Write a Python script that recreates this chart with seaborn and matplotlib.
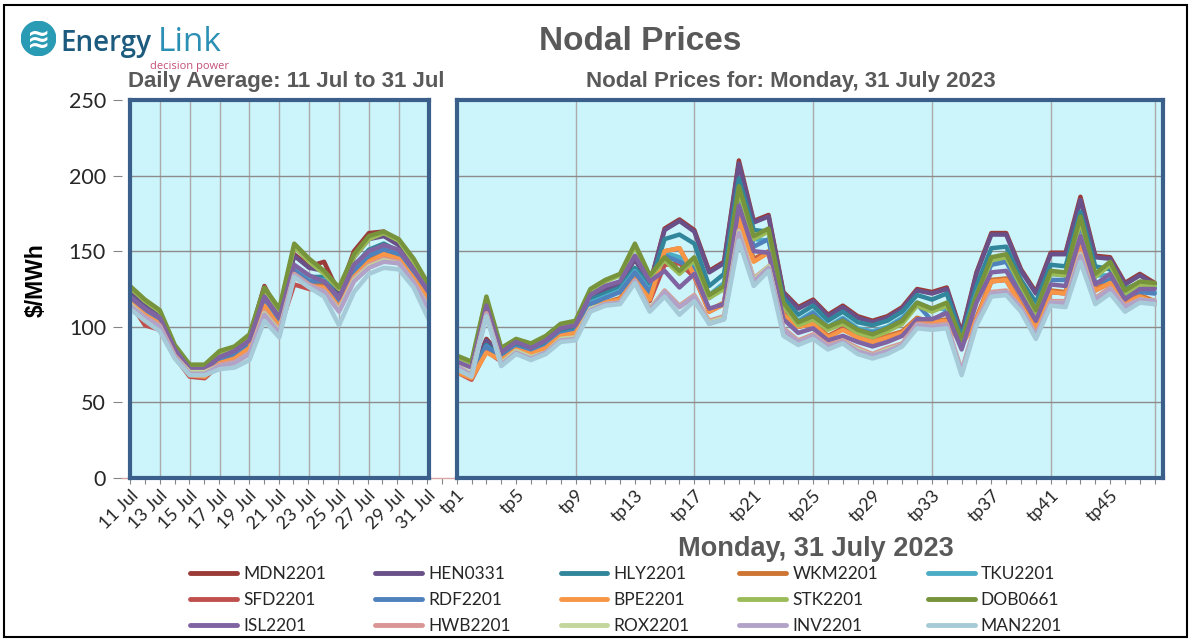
import pandas as pd
import matplotlib
matplotlib.use('Agg')
import matplotlib.pyplot as plt
import seaborn as sns
from matplotlib.lines import Line2D
from matplotlib.patches import Rectangle, Circle

# node names in legend order (also drawing order)
nodes = ['MDN2201', 'HEN0331', 'HLY2201', 'WKM2201', 'TKU2201',
         'SFD2201', 'RDF2201', 'BPE2201', 'STK2201', 'DOB0661',
         'ISL2201', 'HWB2201', 'ROX2201', 'INV2201', 'MAN2201']
node_colours = ['#9B3B38', '#6A5088', '#31869B', '#CE7533', '#4BACC6',
                '#C0504D', '#4F81BD', '#F79646', '#9BBB59', '#77933C',
                '#8064A2', '#D99694', '#C3D69B', '#B3A2C7', '#A6CAD8']

day_labels = ['%d Jul' % d for d in range(11, 32)]
tp_labels = ['tp%d' % t for t in range(1, 49)]

# daily averages, 11 Jul .. 31 Jul ($/MWh)
mdn_daily = [122, 115, 108, 86, 73, 73, 82, 86, 93, 127, 108, 148, 140, 143, 122, 150, 162, 163, 156, 140, 125]
hen_daily = [122, 114, 108, 86, 73, 73, 82, 85, 93, 125, 108, 147, 139, 137, 121, 146, 158, 160, 154, 139, 124]
hly_daily = [120, 112, 106, 85, 72, 72, 80, 83, 90, 120, 105, 140, 133, 133, 118, 140, 151, 155, 150, 137, 122]
wkm_daily = [117, 109, 103, 82, 69, 68, 77, 80, 87, 115, 101, 134, 128, 128, 114, 134, 144, 149, 146, 133, 119]
tku_daily = [119, 111, 105, 84, 71, 71, 79, 82, 89, 118, 104, 138, 131, 131, 117, 138, 149, 153, 149, 136, 121]
sfd_daily = [116, 101, 98, 80, 67, 66, 75, 78, 85, 113, 98, 128, 125, 125, 112, 131, 140, 146, 143, 130, 116]
rdf_daily = [118, 110, 104, 83, 71, 70, 78, 81, 88, 117, 103, 137, 130, 130, 116, 137, 147, 151, 148, 135, 120]
bpe_daily = [116, 108, 102, 81, 68, 67, 76, 79, 86, 114, 100, 133, 127, 126, 113, 133, 143, 148, 145, 132, 118]
stk_daily = [126, 117, 110, 87, 74, 74, 83, 86, 94, 124, 111, 153, 143, 135, 125, 146, 158, 162, 157, 143, 126]
dob_daily = [127, 118, 111, 88, 75, 75, 84, 87, 95, 126, 112, 155, 145, 137, 126, 148, 160, 163, 158, 145, 128]
isl_daily = [120, 112, 106, 85, 72, 72, 80, 84, 91, 120, 106, 141, 134, 130, 119, 141, 150, 154, 151, 138, 123]
hwb_daily = [115, 107, 101, 81, 70, 70, 75, 77, 83, 110, 98, 135, 128, 124, 112, 132, 141, 145, 143, 130, 114]
rox_daily = [115, 106, 100, 80, 70, 70, 74, 76, 82, 109, 97, 134, 127, 123, 111, 131, 140, 144, 142, 129, 113]
inv_daily = [114, 106, 100, 80, 69, 69, 74, 76, 82, 108, 96, 134, 127, 123, 110, 130, 139, 143, 142, 129, 112]
man_daily = [112, 104, 97, 79, 68, 68, 72, 73, 78, 104, 93, 133, 126, 120, 101, 123, 135, 139, 138, 126, 105]

# trading periods tp1 .. tp48 on Monday 31 July 2023 ($/MWh)
mdn_tp = [74, 68, 92, 81, 88, 85, 89, 97, 99, 120, 125, 128, 145, 128, 165, 171, 164, 137, 143, 210, 170, 174, 123, 113,
          118, 108, 114, 107, 104, 107, 113, 125, 123, 126, 96, 136, 162, 162, 138, 123, 149, 149, 186, 147, 146, 129, 135, 129]
hen_tp = [74, 68, 91, 81, 88, 85, 89, 97, 99, 120, 125, 128, 145, 128, 164, 170, 163, 136, 142, 208, 169, 173, 122, 112,
          117, 107, 113, 106, 103, 106, 112, 124, 122, 125, 95, 135, 161, 161, 137, 122, 148, 148, 184, 146, 145, 128, 134, 128]
hly_tp = [73, 67, 88, 80, 87, 84, 88, 96, 98, 118, 122, 126, 139, 127, 158, 161, 155, 127, 135, 198, 164, 163, 119, 108,
          114, 104, 110, 103, 101, 104, 110, 121, 118, 122, 93, 127, 152, 153, 131, 116, 141, 140, 176, 140, 138, 125, 129, 126]
wkm_tp = [71, 66, 84, 78, 85, 82, 86, 94, 96, 112, 116, 119, 132, 119, 150, 152, 134, 111, 116, 173, 145, 150, 109, 100,
          103, 94, 99, 93, 91, 94, 97, 106, 103, 105, 88, 106, 131, 132, 115, 100, 124, 123, 155, 125, 130, 117, 121, 117]
tku_tp = [72, 67, 87, 79, 86, 83, 87, 95, 97, 116, 120, 124, 137, 124, 149, 146, 140, 121, 129, 190, 158, 157, 115, 104,
          110, 100, 106, 99, 97, 100, 106, 116, 112, 112, 91, 122, 144, 145, 127, 112, 135, 134, 170, 134, 134, 121, 124, 123]
sfd_tp = [70, 65, 84, 77, 84, 81, 85, 93, 95, 111, 115, 118, 130, 117, 141, 142, 133, 110, 115, 172, 144, 149, 108, 100,
          102, 93, 99, 93, 90, 93, 96, 105, 103, 104, 88, 105, 130, 131, 114, 99, 123, 122, 153, 124, 129, 116, 120, 115]
rdf_tp = [72, 67, 87, 79, 86, 83, 87, 95, 97, 115, 119, 123, 136, 123, 147, 143, 138, 119, 127, 188, 153, 158, 113, 103,
          109, 99, 105, 98, 96, 99, 105, 115, 104, 110, 90, 120, 141, 143, 125, 110, 131, 131, 168, 129, 131, 121, 123, 122]
bpe_tp = [70, 66, 83, 78, 85, 82, 86, 94, 96, 111, 116, 118, 131, 118, 150, 152, 134, 110, 115, 172, 143, 149, 108, 100,
          102, 93, 98, 93, 90, 93, 96, 105, 103, 104, 88, 105, 130, 131, 114, 99, 123, 122, 153, 124, 129, 116, 120, 116]
stk_tp = [80, 76, 119, 85, 91, 88, 93, 101, 103, 124, 130, 134, 153, 133, 144, 135, 144, 119, 125, 190, 158, 163, 114, 101,
          105, 98, 102, 96, 93, 97, 102, 114, 110, 114, 89, 119, 144, 146, 127, 109, 135, 134, 170, 133, 141, 122, 128, 127]
dob_tp = [81, 77, 120, 86, 92, 89, 94, 102, 104, 125, 131, 135, 155, 134, 146, 137, 146, 121, 127, 193, 160, 165, 116, 103,
          107, 100, 104, 98, 95, 99, 104, 116, 112, 116, 91, 121, 146, 148, 129, 111, 137, 136, 173, 135, 143, 124, 130, 129]
isl_tp = [77, 73, 114, 83, 90, 86, 91, 99, 101, 121, 127, 130, 147, 130, 137, 126, 135, 112, 115, 180, 150, 149, 105, 96,
          99, 91, 94, 90, 87, 90, 94, 105, 105, 109, 85, 116, 136, 137, 121, 104, 128, 127, 160, 128, 135, 118, 125, 125]
hwb_tp = [74, 69, 109, 76, 84, 80, 83, 92, 93, 112, 115, 116, 131, 112, 124, 114, 121, 104, 107, 164, 132, 140, 99, 91,
          95, 88, 91, 86, 82, 86, 89, 102, 101, 102, 71, 104, 123, 124, 113, 95, 117, 117, 149, 119, 126, 114, 118, 117]
rox_tp = [74, 69, 108, 76, 84, 80, 83, 92, 93, 112, 115, 116, 130, 112, 123, 113, 120, 103, 106, 163, 131, 140, 98, 90,
          94, 87, 90, 85, 81, 85, 88, 101, 100, 101, 70, 103, 122, 123, 112, 94, 116, 116, 148, 118, 125, 113, 118, 117]
inv_tp = [74, 68, 108, 75, 83, 79, 83, 91, 92, 111, 115, 116, 130, 111, 123, 113, 120, 102, 105, 162, 130, 139, 98, 90,
          94, 87, 90, 84, 81, 84, 88, 101, 100, 101, 70, 103, 122, 123, 112, 94, 116, 116, 147, 118, 125, 113, 118, 117]
man_tp = [72, 67, 107, 74, 82, 78, 82, 90, 91, 110, 114, 115, 129, 110, 120, 108, 117, 102, 105, 157, 127, 137, 94, 88,
          92, 85, 89, 82, 79, 82, 87, 99, 98, 99, 68, 101, 120, 121, 110, 92, 114, 113, 143, 115, 122, 110, 116, 115]

daily_series = [mdn_daily, hen_daily, hly_daily, wkm_daily, tku_daily, sfd_daily, rdf_daily, bpe_daily,
                stk_daily, dob_daily, isl_daily, hwb_daily, rox_daily, inv_daily, man_daily]
tp_series = [mdn_tp, hen_tp, hly_tp, wkm_tp, tku_tp, sfd_tp, rdf_tp, bpe_tp,
             stk_tp, dob_tp, isl_tp, hwb_tp, rox_tp, inv_tp, man_tp]

# long-form tables for seaborn
daily_df = pd.DataFrame([(n, i, v) for n, s in zip(nodes, daily_series) for i, v in enumerate(s)],
                        columns=['node', 'day', 'price'])
tp_df = pd.DataFrame([(n, i + 1, v) for n, s in zip(nodes, tp_series) for i, v in enumerate(s)],
                     columns=['node', 'tp', 'price'])
palette = dict(zip(nodes, node_colours))

sns.set_style('white')
plt.rcParams['font.family'] = ['Lato', 'DejaVu Sans']

W, H = 1193, 642
fig = plt.figure(figsize=(W / 100, H / 100), dpi=100)

def box(x0, y0, x1, y1):
    # pixel box (top-left origin) -> figure fraction rect
    return [x0 / W, 1 - y1 / H, (x1 - x0) / W, (y1 - y0) / H]

grey = '#868686'
panel_bg = '#CCF4FB'
border = '#3A5F8B'

# base axis: category ticks and labels for both panels, y ticks
axb = fig.add_axes(box(122, 100, 1163, 478))
axb.patch.set_visible(False)
axb.set_xlim(-0.539, 69.56)
axb.set_ylim(0, 250)
axb.set_yticks([0, 50, 100, 150, 200, 250])
axb.tick_params(axis='y', length=6.5, width=0.8, color=grey, pad=5, labelsize=15.5, left=True)
major_pos = list(range(0, 21, 2)) + list(range(22, 70, 4))
major_lab = day_labels[::2] + tp_labels[::4]
axb.set_xticks(major_pos)
axb.set_xticklabels(major_lab, rotation=45, ha='right', rotation_mode='anchor')
axb.set_xticks(range(70), minor=True)
axb.tick_params(axis='x', which='both', length=4.5, width=0.8, color=grey, labelsize=13, pad=2, bottom=True)
for s in ['top', 'right', 'left']:
    axb.spines[s].set_visible(False)
axb.spines['bottom'].set_color('#D8A6A6')
axb.spines['bottom'].set_linewidth(1)

axl = fig.add_axes(box(130, 100, 428.6, 478))
axr = fig.add_axes(box(456.7, 100, 1163, 478))

sns.lineplot(data=daily_df, x='day', y='price', hue='node', hue_order=nodes, palette=palette,
             linewidth=3.2, estimator=None, legend=False, ax=axl)
sns.lineplot(data=tp_df, x='tp', y='price', hue='node', hue_order=nodes, palette=palette,
             linewidth=3.2, estimator=None, legend=False, ax=axr)

axl.set_xlim(0, 20)
axl.set_xticks(range(0, 21, 2))
axr.set_xlim(1, 48.56)
axr.set_xticks([1, 9, 17, 25, 33, 41, 48])
for ax in (axl, axr):
    ax.set_ylim(0, 250)
    ax.set_yticks([50, 100, 150, 200])
    ax.set_facecolor(panel_bg)
    ax.set_xlabel('')
    ax.set_ylabel('')
    ax.tick_params(length=0, labelbottom=False, labelleft=False)
    ax.xaxis.grid(True, color='#ABABAB', linewidth=1)
    ax.yaxis.grid(True, color='#8C8C8C', linewidth=1)
    ax.set_axisbelow(True)
    for s in ax.spines.values():
        s.set_visible(True)
        s.set_color(border)
        s.set_linewidth(3)

# titles and labels
title_font = ['Liberation Sans', 'DejaVu Sans']
fig.text(640 / W, 1 - 42 / H, 'Nodal Prices', ha='center', va='center', fontsize=24,
         fontweight='bold', color='#595959', family=title_font)
fig.text(128 / W, 1 - 82 / H, 'Daily Average: 11 Jul to 31 Jul', ha='left', va='center', fontsize=16,
         fontweight='bold', color='#595959', family=title_font)
fig.text(791 / W, 1 - 81 / H, 'Nodal Prices for: Monday, 31 July 2023', ha='center', va='center',
         fontsize=16, fontweight='bold', color='#595959', family=title_font)
fig.text(816 / W, 1 - 549 / H, 'Monday, 31 July 2023', ha='center', va='center', fontsize=19.5,
         fontweight='bold', color='#595959', family=title_font)
fig.text(36 / W, 1 - 280 / H, r'\$/MWh', rotation=90, ha='center', va='center', fontsize=16.5,
         fontweight='bold', color='black', family=title_font)

# logo
axlogo = fig.add_axes(box(21, 21, 56, 56))
axlogo.set_xlim(0, 1)
axlogo.set_ylim(0, 1)
axlogo.axis('off')
axlogo.add_patch(Circle((0.5, 0.5), 0.49, color='#2A9BB5'))
axlogo.text(0.5, 0.47, '\u224b', ha='center', va='center', fontsize=20, color='white',
            family='DejaVu Sans', fontweight='bold')
fig.text(60 / W, 1 - 51 / H, 'Energy', ha='left', va='baseline', fontsize=20, color='#1C5A7E',
         fontweight='semibold', family=['Open Sans', 'DejaVu Sans'])
fig.text(158 / W, 1 - 51 / H, 'Link', ha='left', va='baseline', fontsize=24, color='#2C8FB4',
         family=['Open Sans', 'DejaVu Sans'])
fig.text(150 / W, 1 - 61 / H, 'decision power', ha='left', va='top', fontsize=8, color='#C4507A',
         family=['Open Sans', 'DejaVu Sans'])

# legend laid out row by row like the original
handles = [Line2D([0], [0], color=c, linewidth=3.5) for c in node_colours]
order = [r * 5 + c for c in range(5) for r in range(3)]
fig.legend([handles[i] for i in order], [nodes[i] for i in order], ncol=5, frameon=False,
           loc='upper left', bbox_to_anchor=(190 / W, 1 - 566 / H), borderaxespad=0, borderpad=0,
           fontsize=12.5, handlelength=2.7, handletextpad=0.36, columnspacing=2.85, labelspacing=0.58)

# outer frame
fig.patches.append(Rectangle((3.5 / W, 5 / H), (1187 - 3.5) / W, (637 - 5) / H, transform=fig.transFigure,
                             fill=False, edgecolor='black', linewidth=1.5))

fig.savefig('out.png', dpi=100)
